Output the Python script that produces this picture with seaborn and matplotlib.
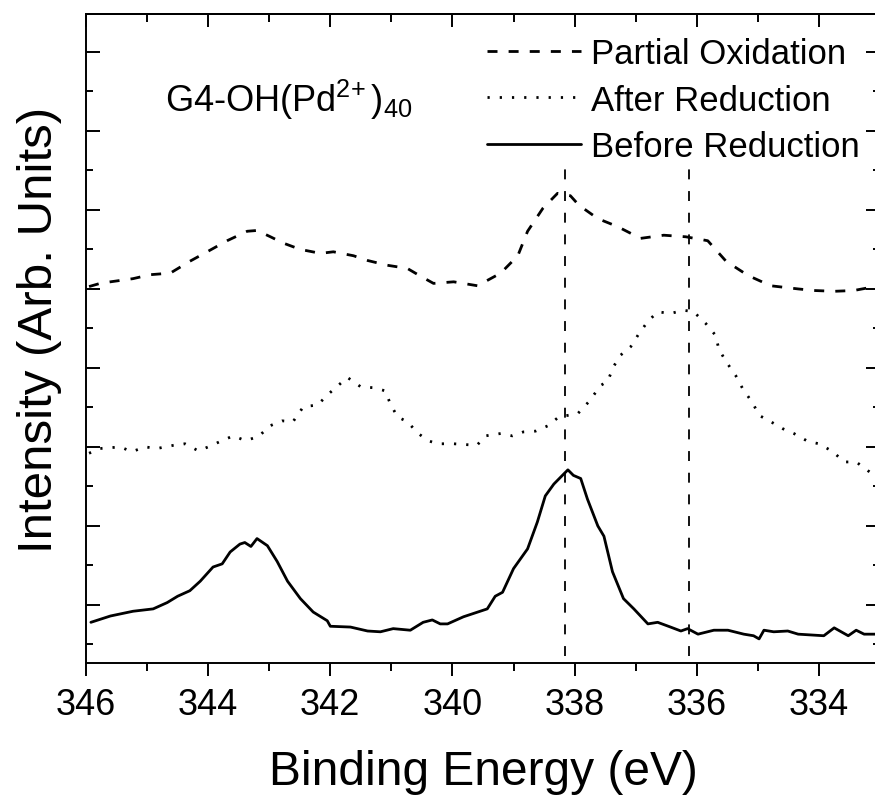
import numpy as np
import pandas as pd
import matplotlib
matplotlib.use("Agg")
import matplotlib.pyplot as plt
import seaborn as sns
from matplotlib.ticker import MultipleLocator, NullFormatter

# ---------------- data ----------------
series_names = ["Partial Oxidation", "After Reduction", "Before Reduction"]

energy_partial = [345.95, 345.77, 345.6, 345.23, 344.95, 344.62, 344.3, 343.97, 343.69,
                  343.36, 343.2, 342.98, 342.77, 342.49, 342.16, 341.95, 341.62, 341.39,
                  341.07, 340.74, 340.52, 340.31, 339.98, 339.59, 339.21, 338.93, 338.77,
                  338.52, 338.28, 338.07, 337.93, 337.62, 337.3, 336.92, 336.54, 336.18,
                  335.82, 335.52, 335.16, 334.79, 334.34, 334.08, 333.75, 333.43, 333.15,
                  333.05]
intensity_partial = [5.03, 5.07, 5.09, 5.13, 5.18, 5.2, 5.35, 5.49, 5.61, 5.73, 5.74, 5.66,
                     5.58, 5.5, 5.45, 5.47, 5.42, 5.36, 5.3, 5.26, 5.16, 5.07, 5.09, 5.04,
                     5.20, 5.42, 5.73, 6.02, 6.21, 6.18, 6.06, 5.89, 5.79, 5.64, 5.68, 5.66,
                     5.61, 5.35, 5.17, 5.04, 5.0, 4.98, 4.97, 4.98, 5.02, 5.0]

energy_after = [345.95, 345.89, 345.77, 345.44, 345.25, 345.03, 344.84, 344.57, 344.38,
                344.16, 344.0, 343.8, 343.59, 343.39, 343.18, 342.98, 342.79, 342.61,
                342.44, 342.21, 342.03, 341.72, 341.5, 341.3, 341.1, 341.02, 340.9,
                340.74, 340.56, 340.4, 340.25, 339.98, 339.6, 339.46, 339.21, 339.02,
                338.84, 338.64, 338.43, 338.26, 337.95, 337.77, 337.57, 337.46, 337.36,
                337.25, 337.08, 336.95, 336.8, 336.64, 336.43, 336.21, 336.05, 335.85,
                335.69, 335.64, 335.52, 335.36, 335.25, 335.08, 334.98, 334.79, 334.59,
                334.41, 334.18, 334.0, 333.77, 333.59, 333.39, 333.2, 333.05]
intensity_after = [2.92, 2.94, 2.98, 3.0, 2.94, 3.0, 2.98, 3.02, 3.04, 2.95, 3.0, 3.07,
                   3.14, 3.08, 3.13, 3.27, 3.33, 3.32, 3.51, 3.53, 3.67, 3.88, 3.76, 3.75,
                   3.71, 3.55, 3.38, 3.32, 3.17, 3.08, 3.04, 3.04, 3.02, 3.14, 3.17, 3.14,
                   3.19, 3.2, 3.27, 3.38, 3.42, 3.57, 3.78, 3.83, 4.02, 4.16, 4.27, 4.43,
                   4.59, 4.71, 4.69, 4.73, 4.71, 4.56, 4.41, 4.24, 4.08, 3.9, 3.74, 3.55,
                   3.40, 3.32, 3.23, 3.17, 3.07, 3.04, 2.94, 2.81, 2.81, 2.70, 2.62]

energy_before = [345.92, 345.6, 345.23, 344.9, 344.67, 344.5, 344.3, 344.13, 343.92,
                 343.77, 343.64, 343.48, 343.4, 343.3, 343.2, 343.03, 342.87, 342.7,
                 342.49, 342.28, 342.05, 342.0, 341.67, 341.39, 341.18, 340.97, 340.69,
                 340.48, 340.33, 340.2, 340.08, 339.82, 339.43, 339.3, 339.18, 339.0,
                 338.77, 338.61, 338.48, 338.34, 338.2, 338.11, 338.02, 337.9, 337.79,
                 337.62, 337.52, 337.38, 337.2, 337.03, 336.8, 336.64, 336.43, 336.26,
                 336.15, 335.98, 335.72, 335.49, 335.23, 335.07, 334.98, 334.9, 334.74,
                 334.51, 334.34, 333.92, 333.75, 333.52, 333.39, 333.26, 333.07]
intensity_before = [0.78, 0.86, 0.92, 0.95, 1.03, 1.11, 1.18, 1.30, 1.48, 1.52, 1.67, 1.77,
                    1.79, 1.74, 1.84, 1.75, 1.55, 1.30, 1.08, 0.91, 0.80, 0.73, 0.72, 0.67,
                    0.66, 0.70, 0.68, 0.78, 0.81, 0.76, 0.76, 0.85, 0.95, 1.11, 1.16, 1.46,
                    1.71, 2.05, 2.38, 2.53, 2.64, 2.71, 2.64, 2.60, 2.34, 2.0, 1.87, 1.42,
                    1.08, 0.95, 0.76, 0.78, 0.72, 0.67, 0.70, 0.63, 0.68, 0.68, 0.63, 0.61,
                    0.57, 0.68, 0.66, 0.67, 0.63, 0.61, 0.71, 0.61, 0.68, 0.63, 0.63]

peak_positions = [338.15, 336.13]
peak_line_span = [0.35, 6.53]
x_ticks = [346, 344, 342, 340, 338, 336, 334]
x_tick_labels = ["346", "344", "342", "340", "338", "336", "334"]
x_label = "Binding Energy (eV)"
y_label = "Intensity (Arb. Units)"
sample_label = r"G4-OH(Pd$^{2\!+}$)$_{40}$"

# ---------------- styling ----------------
sns.set_theme(style="ticks")
plt.rcParams["font.family"] = ["Liberation Sans", "DejaVu Sans"]
plt.rcParams["mathtext.fontset"] = "custom"
plt.rcParams["mathtext.rm"] = "Liberation Sans"
plt.rcParams["mathtext.it"] = "Liberation Sans:italic"
plt.rcParams["mathtext.bf"] = "Liberation Sans:bold"
plt.rcParams["text.color"] = "black"
plt.rcParams["axes.edgecolor"] = "black"
plt.rcParams["xtick.color"] = "black"
plt.rcParams["ytick.color"] = "black"
plt.rcParams["axes.labelcolor"] = "black"

df = pd.concat([
    pd.DataFrame({"energy": energy_partial, "intensity": intensity_partial,
                  "series": series_names[0]}),
    pd.DataFrame({"energy": energy_after, "intensity": intensity_after,
                  "series": series_names[1]}),
    pd.DataFrame({"energy": energy_before, "intensity": intensity_before,
                  "series": series_names[2]}),
], ignore_index=True)

fig = plt.figure(figsize=(8.75, 8.04), dpi=100)
fig.patch.set_facecolor("white")
ax = fig.add_axes([86 / 875, 140 / 804, 794 / 875, 649 / 804])
ax.set_facecolor("white")

sns.lineplot(
    data=df, x="energy", y="intensity", hue="series", style="series",
    hue_order=series_names, style_order=series_names,
    palette={n: "black" for n in series_names},
    dashes={series_names[0]: (3.6, 4.0), series_names[1]: (0.8, 3.6),
            series_names[2]: ""},
    sort=False, estimator=None, linewidth=2.0, ax=ax,
)

ax.vlines(peak_positions, peak_line_span[0], peak_line_span[1], colors="black",
          linewidth=1.3, linestyles=(0, (5.5, 6.5)))

ax.set_xlim(346, 333)
ax.set_ylim(0.265, 8.48)
ax.set_xticks(x_ticks)
ax.set_xticklabels(x_tick_labels)
ax.xaxis.set_minor_locator(MultipleLocator(1))
ax.yaxis.set_major_locator(MultipleLocator(1))
ax.yaxis.set_minor_locator(MultipleLocator(0.5))
ax.yaxis.set_major_formatter(NullFormatter())

for s in ax.spines.values():
    s.set_linewidth(1.4)
    s.set_color("black")

ax.tick_params(axis="x", which="both", direction="out", bottom=True, top=False,
               labelsize=26, width=1.4, pad=8)
ax.tick_params(axis="x", which="major", length=9.4)
ax.tick_params(axis="x", which="minor", length=5.8)
ax.tick_params(axis="y", which="both", direction="in", left=True, right=True,
               labelleft=False, width=1.4)
ax.tick_params(axis="y", which="major", length=10)
ax.tick_params(axis="y", which="minor", length=5)

sec = ax.secondary_xaxis("top")
sec.set_xticks(x_ticks)
sec.xaxis.set_minor_locator(MultipleLocator(1))
sec.tick_params(axis="x", which="both", direction="in", labeltop=False, width=1.4)
sec.tick_params(axis="x", which="major", length=9.4)
sec.tick_params(axis="x", which="minor", length=5.8)
sec.spines["top"].set_linewidth(1.4)

ax.set_xlabel(x_label, fontsize=34.5)
ax.set_ylabel(y_label, fontsize=35.5)
ax.xaxis.set_label_coords(0.501, -0.1325)
ax.yaxis.set_label_coords(-0.030, 0.5146)

ax.text(0.0995, 0.8505, sample_label, transform=ax.transAxes, fontsize=26,
        ha="left", va="baseline")

handles, labels = ax.get_legend_handles_labels()
pairs = [(h, l) for h, l in zip(handles, labels) if l in series_names]
ax.legend([p[0] for p in pairs], [p[1] for p in pairs], loc="upper right",
          bbox_to_anchor=(0.975, 0.9646), frameon=False, fontsize=25,
          handlelength=2.73, handletextpad=0.29, labelspacing=0.39,
          borderpad=0, borderaxespad=0)

fig.savefig("out.png", dpi=100, facecolor="white")
